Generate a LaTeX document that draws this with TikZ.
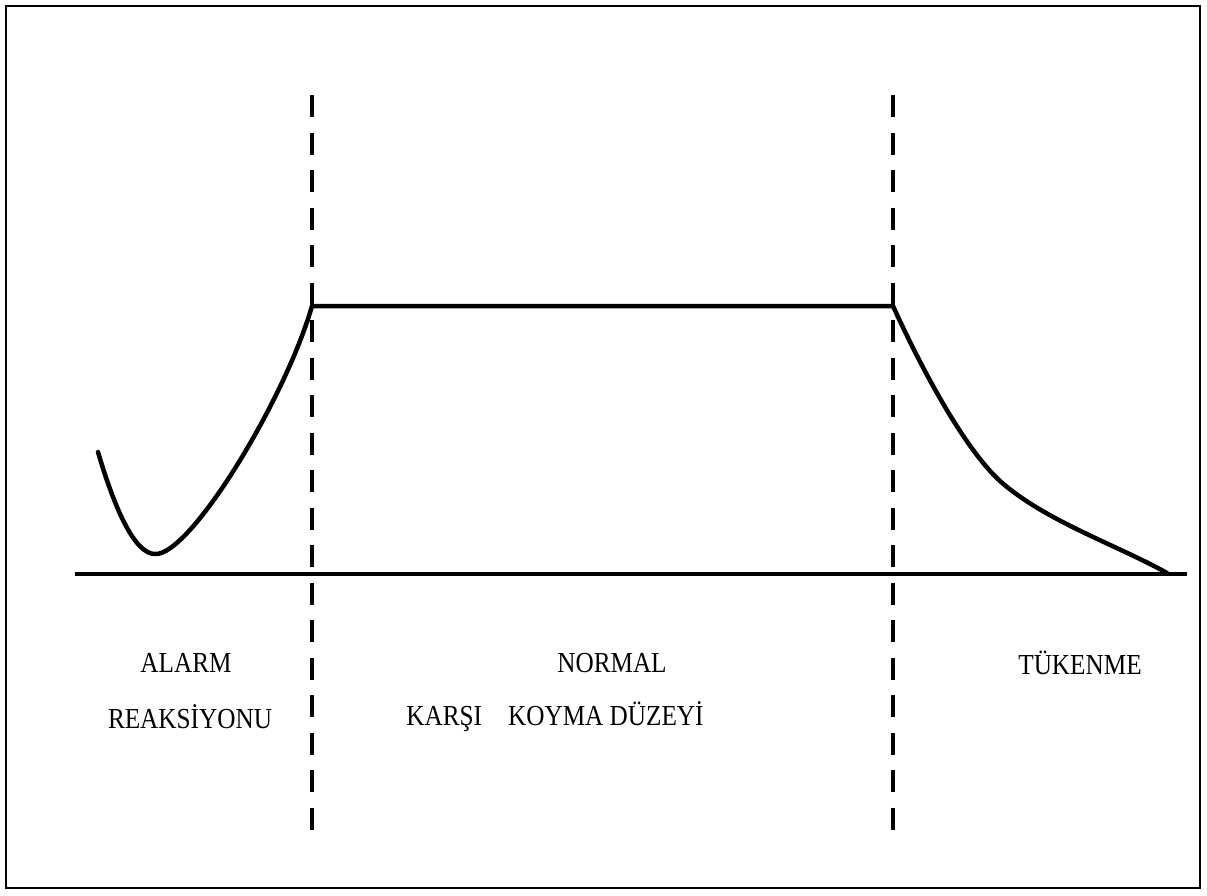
\documentclass[tikz,border=0pt]{standalone}
\usepackage{fontspec}
\setmainfont[FakeStretch=0.87]{Liberation Serif}
\begin{document}
\begin{tikzpicture}[x=1pt,y=-1pt,
  curve/.style={line width=4.5pt,line join=round,line cap=round},
  divider/.style={line width=4.5pt,dash pattern=on 22pt off 15.5pt},
  axis/.style={line width=4pt},
  lbl/.style={font=\fontsize{29}{34}\selectfont,inner sep=0pt}]
\useasboundingbox (0,0) rectangle (1207,895);
\draw[line width=1.6pt] (6,6) rectangle (1200,888);
% dividers
\coordinate (d1t) at (312,95); \coordinate (d1b) at (312,842);
\coordinate (d2t) at (893,95); \coordinate (d2b) at (893,842);
\draw[divider] (d1t) -- (d1b);
\draw[divider] (d2t) -- (d2b);
% baseline
\coordinate (bl) at (75,574); \coordinate (br) at (1187,574);
\draw[axis] (bl) -- (br);
% curve
\coordinate (s) at (98,452); \coordinate (m) at (155,554);
\coordinate (p1) at (312,306); \coordinate (p2) at (893,306);
\coordinate (q) at (1000,481); \coordinate (e) at (1167,573);
\draw[curve] (s) .. controls (115,510) and (135,554) .. (m)
  .. controls (190,556) and (285,400) .. (p1) -- (p2)
  .. controls (923,372) and (965,449) .. (q)
  .. controls (1045,521) and (1117,545) .. (e);
% labels
\node[lbl] (alarm) at (186,663) {ALARM};
\node[lbl] (reak) at (190,717) {REAKSİYONU};
\node[lbl] (normal) at (612,663) {NORMAL};
\node[lbl] (karsi) at (555,717) {KARŞI\hspace{0.9em}KOYMA DÜZEYİ};
\node[lbl] (tuk) at (1080,663) {TÜKENME};
\end{tikzpicture}
\end{document}
